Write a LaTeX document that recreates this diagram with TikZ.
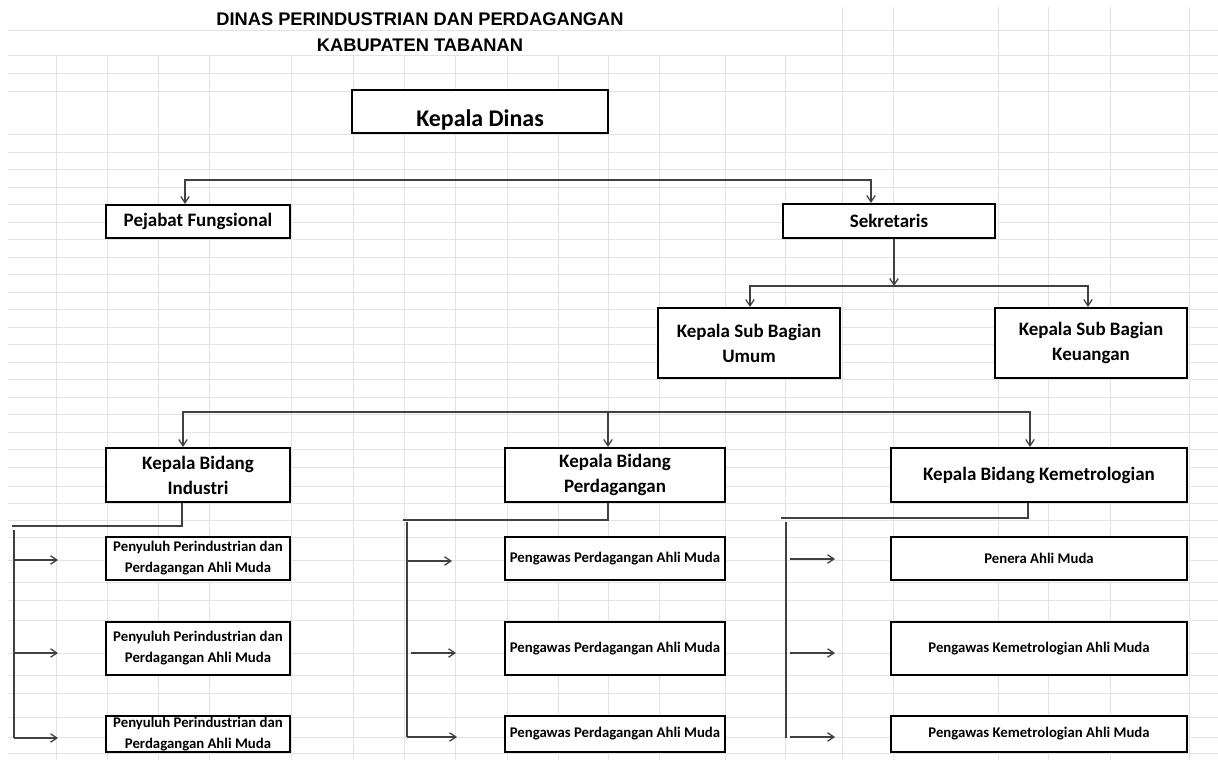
\documentclass[tikz,border=0pt]{standalone}
\usepackage{fontspec}
\setmainfont{Carlito}
\newfontfamily\titlefont{Liberation Sans}
\usetikzlibrary{arrows.meta, positioning}
\tikzset{>={Straight Barb[length=4.5pt,width=6pt]}}
\tikzset{
  box/.style={draw, line width=1.5pt, fill=white, inner sep=0pt, align=center},
  mid/.style={box, font=\fontsize{13.5}{17.8}\selectfont\bfseries},
  small/.style={box, font=\fontsize{10.5}{15}\selectfont\bfseries},
  conn/.style={draw=black!75, line width=0.9pt},
  gridline/.style={draw=black!11, line width=0.7pt}
}

\begin{document}
\begin{tikzpicture}[x=0.025cm, y=-0.025cm]
		\useasboundingbox (0,0) rectangle (1218,760);
		% sheet grid
		\foreach \x in {56,107,158,209,291,353,404,455,507,558,608,659,725,785}
			\draw[gridline] (\x,55) -- (\x,760);
		\foreach \x in {842,893,998,1048,1110,1189}
			\draw[gridline] (\x,7) -- (\x,760);
		\foreach \y in {30,55,73,91,134,152,169,187,204,222,239,257,274,292,309,327,344,362,379,397,414,432,449,467,486,503,520,537,560,582,600,620,653,675,693,717,737,753}
			\draw[gridline] (8,\y) -- (1218,\y);
		
		\node [font=\titlefont\bfseries\fontsize{13}{16}\selectfont] (t1) at (420,19) {DINAS PERINDUSTRIAN DAN PERDAGANGAN};
		\node [font=\titlefont\bfseries\fontsize{13}{16}\selectfont] (t2) at (420,45) {KABUPATEN TABANAN};
		
		\node [box, minimum width=6.4cm, minimum height=1.075cm] (kd) at (480,111.5) {};
		\node [font=\fontsize{17}{20}\selectfont\bfseries] (kdt) at (480,120) {Kepala Dinas};
		
		\node [mid, minimum width=4.6cm, minimum height=0.825cm] (pf) at (198,221.5) {Pejabat Fungsional};
		\node [mid, minimum width=5.3cm, minimum height=0.85cm] (sk) at (889,221) {Sekretaris};
		\node [mid, minimum width=4.55cm, minimum height=1.75cm] (ku) at (749,343) {Kepala Sub Bagian\\Umum};
		\node [mid, minimum width=4.8cm, minimum height=1.75cm] (kk) at (1091,343) {Kepala Sub Bagian\\Keuangan};
		\node [mid, minimum width=4.6cm, minimum height=1.35cm] (bi) at (198,475) {Kepala Bidang\\Industri};
		\node [mid, minimum width=5.5cm, minimum height=1.35cm] (bp) at (615,475) {Kepala Bidang\\Perdagangan};
		\node [mid, minimum width=7.4cm, minimum height=1.35cm] (bm) at (1039,475) {Kepala Bidang Kemetrologian};
		
		\foreach \n/\y/\h in {1/558.5/1.075cm, 2/648.5/1.325cm, 3/734/0.9cm} {
			\node [small, minimum width=4.6cm, minimum height=\h] (i\n) at (198,\y) {Penyuluh Perindustrian dan\\Perdagangan Ahli Muda};
			\node [small, minimum width=5.5cm, minimum height=\h] (p\n) at (615,\y) {Pengawas Perdagangan Ahli Muda};
		}
		\node [small, minimum width=7.4cm, minimum height=1.075cm] (m1) at (1039,558.5) {Penera Ahli Muda};
		\node [small, minimum width=7.4cm, minimum height=1.325cm] (m2) at (1039,648.5) {Pengawas Kemetrologian Ahli Muda};
		\node [small, minimum width=7.4cm, minimum height=0.9cm] (m3) at (1039,734) {Pengawas Kemetrologian Ahli Muda};
		
		\coordinate (a1) at (185,180);
		\coordinate (a2) at (871,180);
		\draw[conn,<->] (pf.north -| a1) -- (a1) -- (a2) -- (sk.north -| a2);
		
		\coordinate (b0) at (894,286);
		\coordinate (b1) at (750,286);
		\coordinate (b2) at (1088,286);
		\draw[conn,->] (sk.south -| b0) -- (b0);
		\draw[conn,<->] (ku.north -| b1) -- (b1) -- (b2) -- (kk.north -| b2);
		
		\coordinate (c1) at (183,412);
		\coordinate (c2) at (608,412);
		\coordinate (c3) at (1030,412);
		\draw[conn,<->] (bi.north -| c1) -- (c1) -- (c3) -- (bm.north -| c3);
		\draw[conn,->] (c2) -- (bp.north -| c2);
		
		\coordinate (d1) at (182,526);
		\coordinate (d0) at (12,526);
		\coordinate (e0) at (14,530);
		\coordinate (e1) at (14,738);
		\draw[conn] (bi.south -| d1) -- (d1) -- (d0);
		\draw[conn] (e0) -- (e1);
		\foreach \y [count=\n] in {560,653,738} {
			\coordinate (is\n) at (14,\y);
			\coordinate (it\n) at (58,\y);
			\draw[conn,->] (is\n) -- (it\n);
		}
		
		\coordinate (g1) at (608,520);
		\coordinate (g0) at (403,520);
		\coordinate (h0) at (407,522);
		\coordinate (h1) at (407,737);
		\draw[conn] (bp.south -| g1) -- (g1) -- (g0);
		\draw[conn] (h0) -- (h1);
		\foreach \s/\e/\y [count=\n] in {407/452/561, 411/456/653, 407/457/737} {
			\coordinate (ps\n) at (\s,\y);
			\coordinate (pt\n) at (\e,\y);
			\draw[conn,->] (ps\n) -- (pt\n);
		}
		
		\coordinate (f1) at (1028,518);
		\coordinate (f0) at (781,518);
		\coordinate (k0) at (786,522);
		\coordinate (k1) at (786,738);
		\draw[conn] (bm.south -| f1) -- (f1) -- (f0);
		\draw[conn] (k0) -- (k1);
		\foreach \y [count=\n] in {559,653,737} {
			\coordinate (ms\n) at (790,\y);
			\coordinate (mt\n) at (835,\y);
			\draw[conn,->] (ms\n) -- (mt\n);
		}
\end{tikzpicture}
\end{document}
